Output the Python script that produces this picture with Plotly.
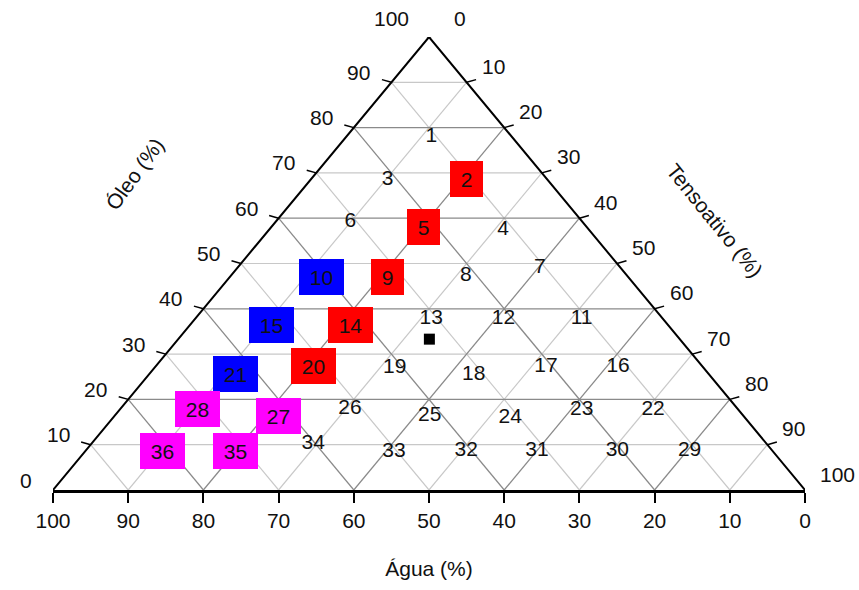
import plotly.graph_objects as go

# ---------------- data (compositions in %) ----------------
numeros = [str(i) for i in range(1, 37)]
oleo = [78.0, 68.7, 68.4, 57.5, 58.0, 59.3, 49.1, 47.2, 47.1, 47.1,
        37.8, 37.8, 37.8, 36.5, 36.5, 27.1, 27.1, 25.5, 26.9, 27.4,
        25.7, 17.8, 17.8, 16.0, 16.4, 18.0, 16.4, 17.9, 8.7, 8.7,
        8.7, 8.7, 8.5, 10.2, 8.7, 8.7]
agua = [10.7, 10.7, 21.3, 11.4, 21.7, 30.8, 10.7, 21.5, 32.0, 40.7,
        10.8, 21.2, 30.8, 42.2, 52.7, 11.3, 20.9, 31.3, 41.1, 51.6,
        62.9, 11.3, 20.8, 31.2, 41.7, 51.5, 61.8, 71.8, 11.0, 20.6,
        31.3, 40.7, 50.4, 60.3, 71.4, 81.1]
tensoativo = [11.3, 20.6, 10.3, 31.1, 20.3, 9.9, 40.2, 31.3, 20.9, 12.2,
              51.4, 41.0, 31.4, 21.3, 10.8, 61.6, 52.0, 43.2, 32.0, 21.0,
              11.4, 70.9, 61.4, 52.8, 41.9, 30.5, 21.8, 10.3, 80.3, 70.7,
              60.0, 50.6, 41.1, 29.5, 19.9, 10.2]
grupo = ["", "vermelho", "", "", "vermelho", "", "", "", "vermelho", "azul",
         "", "", "", "vermelho", "azul", "", "", "", "", "vermelho",
         "azul", "", "", "", "", "", "magenta", "magenta", "", "",
         "", "", "", "", "magenta", "magenta"]
centro_oleo = [33.3]
centro_agua = [33.3]
centro_tensoativo = [33.4]
marcas = [0, 10, 20, 30, 40, 50, 60, 70, 80, 90, 100]

cores = {"vermelho": "#ff0000", "azul": "#0000ff", "magenta": "#ff00ff"}
FONTE = "Liberation Sans, Arial, Helvetica, sans-serif"
FS = 21
TXT = "#111111"


def proj(a, b, c):
    """ternary (Óleo, Água, Tensoativo) -> cartesian plot units"""
    s = a + b + c
    return 100.0 * (c + a / 2.0) / s, 100.0 * a / s


fig = go.Figure()

# ---------------- grid ----------------
def grid_trace(levels, color, width):
    xs, ys = [], []
    for v in levels:
        for p0, p1 in (((v, 100 - v, 0), (v, 0, 100 - v)),
                       ((100 - v, v, 0), (0, v, 100 - v)),
                       ((100 - v, 0, v), (0, 100 - v, v))):
            x0, y0 = proj(*p0)
            x1, y1 = proj(*p1)
            xs += [x0, x1, None]
            ys += [y0, y1, None]
    return go.Scatter(x=xs, y=ys, mode="lines", hoverinfo="skip",
                      line=dict(color=color, width=width), cliponaxis=False)

internos = [m for m in marcas if 0 < m < 100]
fig.add_trace(grid_trace([m for m in internos if m % 20 != 0], "#c8c8c8", 1.2))
fig.add_trace(grid_trace([m for m in internos if m % 20 == 0], "#8a8a8a", 1.3))

# ---------------- triangle sides (left / right) ----------------
vx, vy = zip(*[proj(0, 100, 0), proj(100, 0, 0), proj(0, 0, 100)])
fig.add_trace(go.Scatter(x=list(vx), y=list(vy), mode="lines", hoverinfo="skip",
                         line=dict(color="black", width=2), cliponaxis=False))

# ---------------- tick marks on the two slanted sides ----------------
DX, DY = 1.26, 0.59
tx, ty = [], []
for m in marcas:
    x0, y0 = proj(m, 100 - m, 0)          # Óleo ticks, left side
    tx += [x0, x0 - DX, None]
    ty += [y0, y0 + DY, None]
    x0, y0 = proj(100 - m, 0, m)          # Tensoativo ticks, right side
    tx += [x0, x0 + DX, None]
    ty += [y0, y0 + DY, None]
fig.add_trace(go.Scatter(x=tx, y=ty, mode="lines", hoverinfo="skip",
                         line=dict(color="black", width=1.5), cliponaxis=False))

# ---------------- plain labels ----------------
px_, py_, pt_ = [], [], []
for n, a, b, c, g in zip(numeros, oleo, agua, tensoativo, grupo):
    if not g:
        x, y = proj(a, b, c)
        px_.append(x); py_.append(y); pt_.append(n)
fig.add_trace(go.Scatter(x=px_, y=py_, mode="text", text=pt_,
                         textposition="middle center", cliponaxis=False,
                         textfont=dict(family=FONTE, size=FS, color=TXT),
                         hoverinfo="skip"))

# ---------------- centroid marker ----------------
cx, cy = proj(centro_oleo[0], centro_agua[0], centro_tensoativo[0])
fig.add_trace(go.Scatter(x=[cx], y=[cy], mode="markers", cliponaxis=False,
                         marker=dict(symbol="square", size=11, color="black"),
                         hoverinfo="skip"))

annotations = []
# ---------------- boxed labels ----------------
for n, a, b, c, g in zip(numeros, oleo, agua, tensoativo, grupo):
    if g:
        x, y = proj(a, b, c)
        annotations.append(dict(
            x=x, y=y, xref="x", yref="y", text=n, showarrow=False,
            bgcolor=cores[g], borderpad=0, borderwidth=0,
            width=33 if len(n) == 1 else 45, height=36,
            font=dict(family=FONTE, size=FS, color=TXT),
            xanchor="center", yanchor="middle"))

# ---------------- slanted-axis tick labels ----------------
for m in marcas:
    x, y = proj(m, 100 - m, 0)
    annotations.append(dict(x=x, y=y, xref="x", yref="y", text=str(m),
                            showarrow=False, xanchor="right", yanchor="middle",
                            xshift=-19 if m < 100 else -18,
                            yshift=10 if m < 100 else 19,
                            font=dict(family=FONTE, size=FS, color=TXT)))
    x, y = proj(100 - m, 0, m)
    annotations.append(dict(x=x, y=y, xref="x", yref="y", text=str(m),
                            showarrow=False, xanchor="left", yanchor="middle",
                            xshift=13 if m > 0 else 23,
                            yshift=16 if m > 0 else 19,
                            font=dict(family=FONTE, size=FS, color=TXT)))

# ---------------- slanted axis titles ----------------
annotations.append(dict(x=0.109, y=0.699, xref="paper", yref="paper",
                        xanchor="center", yanchor="middle",
                        text="Óleo (%)", showarrow=False, textangle=-54,
                        font=dict(family=FONTE, size=FS, color=TXT)))
annotations.append(dict(x=0.880, y=0.594, xref="paper", yref="paper",
                        xanchor="center", yanchor="middle",
                        text="Tensoativo (%)", showarrow=False, textangle=51,
                        font=dict(family=FONTE, size=FS, color=TXT)))

# bottom axis (Água) uses the real x axis: position along base = 100 - Água
agua_pos = [proj(0, m, 100 - m)[0] for m in marcas]

fig.update_layout(
    width=859, height=590,
    margin=dict(l=53, r=54, t=37, b=95),
    paper_bgcolor="white", plot_bgcolor="white",
    showlegend=False,
    annotations=annotations,
    xaxis=dict(range=[0, 100], showgrid=False, zeroline=False,
               showline=True, linecolor="black", linewidth=2.5,
               ticks="outside", ticklen=10, tickwidth=2, tickcolor="black",
               tickvals=agua_pos, ticktext=[str(m) for m in marcas],
               tickfont=dict(family=FONTE, size=FS, color=TXT),
               ticklabelstandoff=0,
               title=dict(text="Água (%)", standoff=31,
                          font=dict(family=FONTE, size=FS, color=TXT)),
               fixedrange=True),
    yaxis=dict(range=[0, 100], visible=False, fixedrange=True),
)

fig.write_html("out.html", config={"displayModeBar": False},
               post_script="document.body.style.margin='0px';")
